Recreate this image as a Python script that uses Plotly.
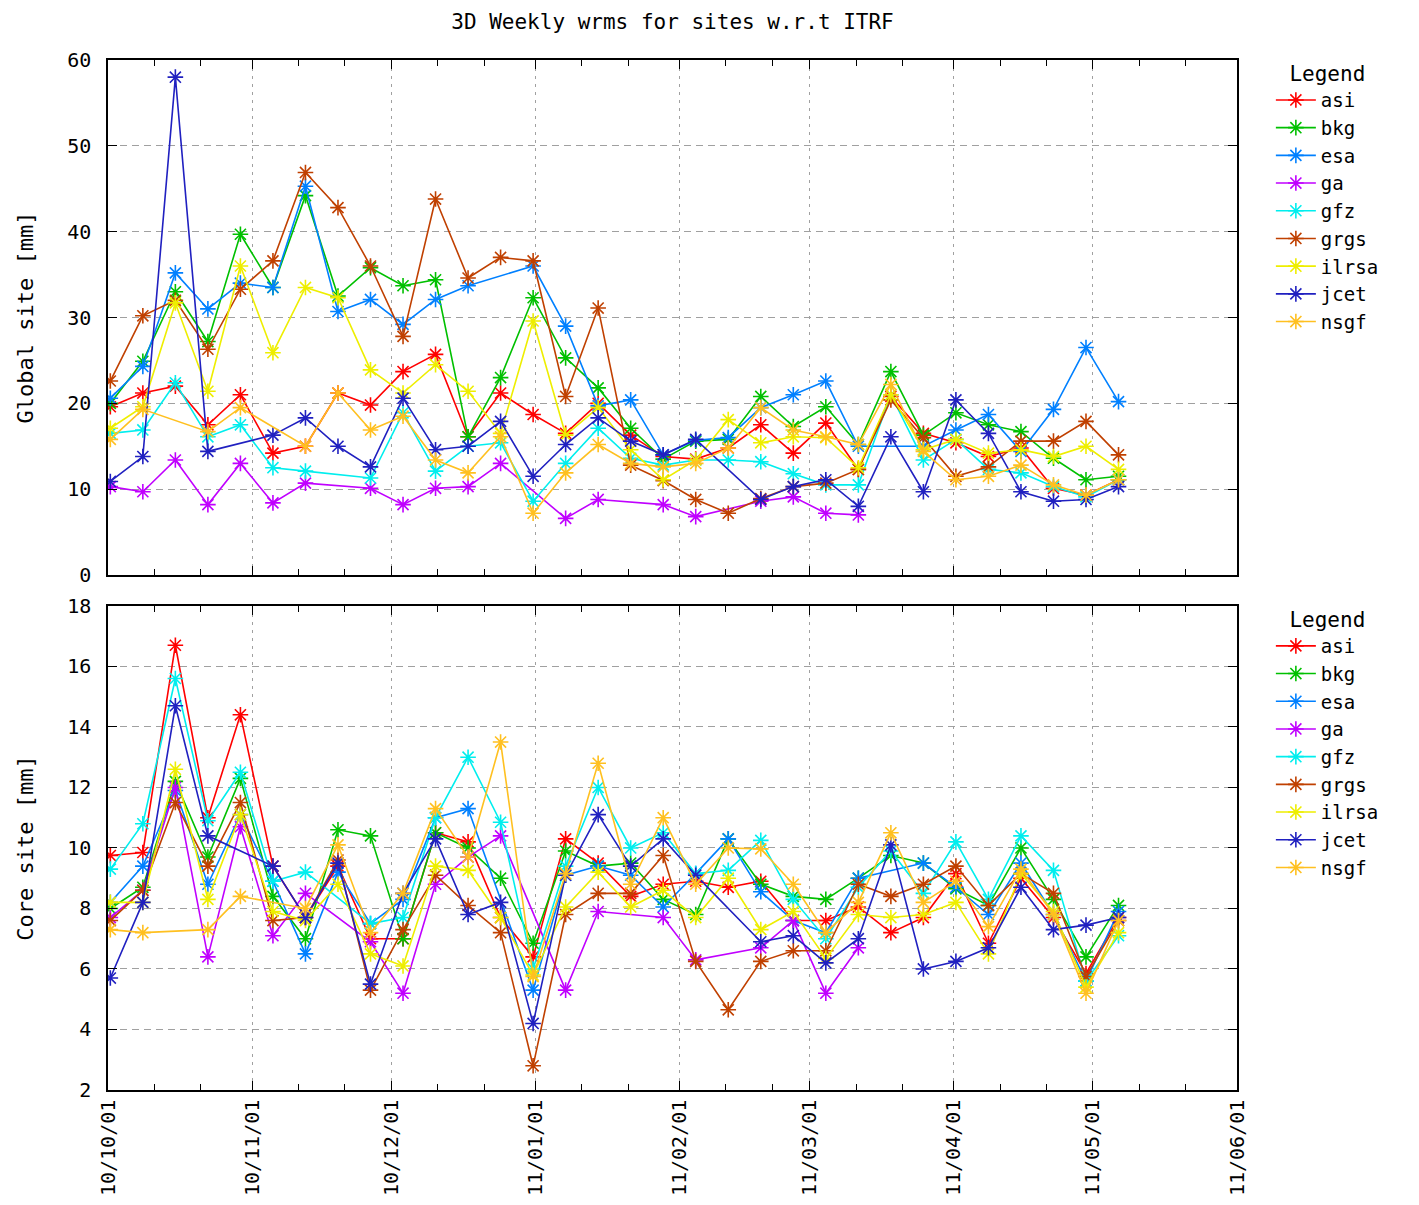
import plotly.graph_objects as go

# weekly solution epochs (Fridays)
weeks = ["2010-10-01", "2010-10-08", "2010-10-15", "2010-10-22", "2010-10-29",
         "2010-11-05", "2010-11-12", "2010-11-19", "2010-11-26",
         "2010-12-03", "2010-12-10", "2010-12-17", "2010-12-24", "2010-12-31",
         "2011-01-07", "2011-01-14", "2011-01-21", "2011-01-28",
         "2011-02-04", "2011-02-11", "2011-02-18", "2011-02-25",
         "2011-03-04", "2011-03-11", "2011-03-18", "2011-03-25",
         "2011-04-01", "2011-04-08", "2011-04-15", "2011-04-22", "2011-04-29",
         "2011-05-06"]

sites = ["asi", "bkg", "esa", "ga", "gfz", "grgs", "ilrsa", "jcet", "nsgf"]

# Global site 3D wrms [mm]
global_asi = [19.6, 21.2, 22.0, 17.5, 21.0, 14.2, 15.0, 21.2, 19.8, 23.7, 25.7, 16.1, 21.2, 18.7, 16.5, 20.0,
              16.3, 13.8, 13.5, 14.8, 17.5, 14.2, 17.7, 12.3, 20.8, 16.5, 15.4, 13.8, 14.8, 10.1, 9.3, 11.1]
global_bkg = [20.0, 24.9, 33.0, 27.2, 39.7, 33.5, 44.2, 32.5, 35.8, 33.7, 34.4, 16.1, 23.0, 32.3, 25.3, 21.8,
              17.1, 13.5, 15.6, 15.8, 20.8, 17.3, 19.6, 15.2, 23.7, 16.3, 18.9, 17.5, 16.7, 13.6, 11.1, 11.5]
global_esa = [20.6, 24.3, 35.2, 31.0, 34.0, 33.5, 45.3, 30.7, 32.1, 29.2, 32.1, 33.7, None, 36.0, 29.0, 19.7,
              20.4, 14.0, 15.7, 16.0, 19.5, 21.0, 22.6, 15.0, None, 15.0, 16.9, 18.7, 14.4, 19.3, 26.5, 20.2]
global_ga = [10.3, 9.7, 13.4, 8.2, 13.0, 8.4, 10.7, None, 10.1, 8.2, 10.1, 10.3, 13.0, None, 6.6, 8.8,
             None, 8.2, 6.8, None, 8.6, 9.1, 7.2, 7.0, None, None, None, None, None, None, None, None]
global_gfz = [16.5, 16.9, 22.4, 16.1, 17.5, 12.5, 12.1, None, 11.3, 18.9, 12.1, 15.0, 15.4, 8.6, 13.0, 17.1,
              13.6, 12.8, 13.4, 13.4, 13.2, 11.8, 10.5, 10.5, 21.0, 13.4, 15.8, 12.3, 11.9, 10.3, 9.1, 11.1]
global_grgs = [22.6, 30.2, 32.0, 26.3, 33.3, 36.6, 46.9, 42.8, 36.0, 27.8, 43.8, 34.6, 37.0, 36.6, 20.8, 31.1,
               12.8, 11.0, 8.8, 7.2, 8.9, 10.3, 10.7, 12.3, 20.4, 16.0, 11.5, 12.6, 15.6, 15.6, 17.9, 14.0]
global_ilrsa = [17.1, 19.6, 31.7, 21.4, 36.0, 25.9, 33.5, 32.3, 23.9, 21.2, 24.5, 21.4, 16.5, 29.6, 16.3, 19.5,
                14.6, 11.1, 13.4, 18.1, 15.4, 16.1, 16.0, 12.5, 21.0, 14.6, 15.8, 14.2, 14.6, 13.8, 15.0, 12.3]
global_jcet = [10.9, 13.8, 58.0, 14.4, None, 16.3, 18.3, 15.0, 12.6, 20.6, 14.6, 15.0, 17.9, 11.5, 15.2, 18.3,
               15.6, 14.0, 15.8, None, 8.8, 10.3, 11.1, 8.0, 16.1, 9.7, 20.4, 16.5, 9.7, 8.6, 8.8, 10.3]
global_nsgf = [15.8, 19.3, None, 16.7, 19.5, None, 15.0, 21.2, 16.9, 18.5, 13.4, 11.9, 16.1, 7.2, 11.9, 15.2,
               13.0, 12.6, 13.0, 14.8, 19.5, 16.9, 16.1, 15.2, 22.2, 14.4, 11.1, 11.5, 12.8, 10.5, 9.3, 11.1]

# Core site 3D wrms [mm]
core_asi = [9.75, 9.85, 16.7, 11.0, 14.4, 9.4, 7.7, 9.4, 7.0, 7.0, 10.5, 10.2, 7.7, 6.4, 10.3, 9.5,
            8.4, 8.8, 8.9, 8.7, 8.9, 7.6, 7.6, 8.05, 7.2, 7.7, 9.15, 6.85, 9.0, 7.7, 5.85, 7.7]
core_bkg = [8.0, 8.7, 12.2, 9.7, 12.3, 8.4, 7.0, 10.6, 10.4, 7.0, 10.5, 10.0, 9.0, 6.85, 9.9, 9.4,
            9.5, 8.3, 7.8, 10.3, 8.8, 8.4, 8.3, 9.0, 9.75, 9.5, 8.65, 8.1, 10.0, 8.3, 6.4, 8.1]
core_esa = [8.2, 9.4, 11.9, 8.8, 11.1, 8.9, 6.5, 9.2, 7.5, 8.3, 11.0, 11.3, None, 5.3, 9.1, 9.4,
            9.1, 8.05, 9.15, 10.3, 8.55, 7.6, 7.2, 9.0, None, 9.5, 8.7, 7.8, 9.5, 7.8, 5.6, 7.9]
core_ga = [7.7, 8.6, 12.0, 6.4, 10.7, 7.1, 8.5, None, 6.9, 5.2, 8.8, 9.7, 10.4, None, 5.3, 7.9,
           None, 7.7, 6.3, None, 6.7, 7.6, 5.2, 6.7, None, None, None, None, None, None, None, None]
core_gfz = [9.3, 10.8, 15.6, 10.9, 12.5, 8.9, 9.2, None, 7.5, 7.7, 11.0, 13.0, 10.85, 6.0, 9.4, 12.0,
            10.0, 10.5, 9.15, 9.26, 10.25, 8.3, 7.0, 8.7, 9.9, 8.5, 10.2, 8.3, 10.4, 9.26, 5.6, 7.1]
core_grgs = [7.6, 8.6, 11.5, 9.4, 11.5, 7.6, 7.7, 9.6, 5.3, 7.3, 9.1, 8.1, 7.2, 2.8, 7.8, 8.5,
             8.5, 9.75, 6.25, 4.65, 6.25, 6.6, 6.6, 8.8, 8.4, 8.8, 9.4, 8.1, 9.15, 8.5, 5.75, 7.6]
core_ilrsa = [8.2, 8.2, 12.6, 8.3, 11.1, 7.9, 7.6, 8.8, 6.5, 6.1, 9.4, 9.26, 7.7, 5.8, 8.05, 9.2,
              8.05, 8.6, 7.7, 9.0, 7.3, 7.9, 6.35, 7.8, 7.7, 7.8, 8.2, 6.5, 9.15, 7.9, 5.4, 7.2]
core_jcet = [5.7, 8.2, 14.7, 10.4, None, 9.4, 7.7, 9.5, 5.5, 8.5, 10.3, 7.8, 8.2, 4.2, 9.1, 11.1,
             9.4, 10.3, 9.1, None, 6.9, 7.1, 6.2, 7.0, 10.1, 6.0, 6.25, 6.7, 8.7, 7.3, 7.45, 7.7]
core_nsgf = [7.3, 7.2, None, 7.3, 8.4, None, 8.0, 10.1, 7.2, 8.5, 11.3, 9.7, 13.5, 5.75, 9.15, 12.8,
             8.8, 11.0, 8.8, 10.0, 9.97, 8.8, 7.2, 8.2, 10.5, 8.2, 8.9, 7.4, 9.3, 7.8, 5.2, 7.6]

global_vals = [global_asi, global_bkg, global_esa, global_ga, global_gfz,
               global_grgs, global_ilrsa, global_jcet, global_nsgf]
core_vals = [core_asi, core_bkg, core_esa, core_ga, core_gfz,
             core_grgs, core_ilrsa, core_jcet, core_nsgf]

colors = ["#ff0000", "#00c000", "#0080ff", "#c000ff", "#00eeee",
          "#c04000", "#eeee00", "#2020c0", "#ffc020"]

FONT = "DejaVu Sans Mono"
x = [w + " 12:00" for w in weeks]

fig = go.Figure()
for name, vals, col in zip(sites, global_vals, colors):
    fig.add_trace(go.Scatter(
        x=x, y=vals, name=name, mode="lines+markers", connectgaps=True,
        line=dict(color=col, width=1.6),
        marker=dict(symbol="asterisk-open", size=13, color=col, line=dict(color=col, width=1.6)),
        xaxis="x", yaxis="y", legend="legend"))
for name, vals, col in zip(sites, core_vals, colors):
    fig.add_trace(go.Scatter(
        x=x, y=vals, name=name, mode="lines+markers", connectgaps=True,
        line=dict(color=col, width=1.6),
        marker=dict(symbol="asterisk-open", size=13, color=col, line=dict(color=col, width=1.6)),
        xaxis="x2", yaxis="y2", legend="legend2"))

months = ["2010-10", "2010-11", "2010-12", "2011-01", "2011-02", "2011-03", "2011-04", "2011-05"]
minor_vals = [m + d for m in months for d in ("-11", "-21")]

common_x = dict(
    type="date", range=["2010-10-01", "2011-06-01"],
    tick0="2010-10-01", dtick="M1", tickformat="%y/%m/%d",
    ticks="inside", ticklen=9, tickcolor="black", tickwidth=1.2,
    showline=True, linecolor="black", linewidth=1.5, mirror="allticks",
    showgrid=True, gridcolor="#a0a0a0", griddash="3px,5px", gridwidth=1.3,
    minor=dict(tickmode="array", tickvals=minor_vals, ticks="inside", ticklen=6,
               tickcolor="black", tickwidth=1.2, showgrid=False),
    zeroline=False, automargin=False,
    tickfont=dict(family=FONT, size=20, color="black"),
)
common_y = dict(
    ticks="inside", ticklen=9, tickcolor="black", tickwidth=1.2,
    showline=True, linecolor="black", linewidth=1.5, mirror="allticks",
    showgrid=True, gridcolor="#a0a0a0", griddash="7px,5px", gridwidth=1.3,
    zeroline=False, automargin=False, ticklabelstandoff=11,
    tickfont=dict(family=FONT, size=20, color="black"),
)

legend_common = dict(
    xref="paper", x=1.03, xanchor="left", yanchor="top",
    font=dict(family=FONT, size=19, color="black"),
    bgcolor="rgba(0,0,0,0)", itemwidth=40, tracegroupgap=0,
    title=dict(text="Legend", side="top center", font=dict(family=FONT, size=21, color="black")),
)

fig.update_layout(
    width=1419, height=1205,
    paper_bgcolor="white", plot_bgcolor="white",
    margin=dict(l=100, r=190, t=52, b=123),
    font=dict(family=FONT, size=20, color="black"),
    title=dict(text="3D Weekly wrms for sites w.r.t ITRF", x=0.5, xref="paper", xanchor="center",
               y=1 - 14 / 1205, yref="container", yanchor="middle",
               font=dict(family=FONT, size=21, color="black")),
    xaxis=dict(common_x, domain=[0, 1], anchor="y", showticklabels=False),
    yaxis=dict(common_y, domain=[0.5, 1], range=[0, 60], dtick=10,
               title=dict(text="Global site [mm]", standoff=27,
                          font=dict(family=FONT, size=22, color="black"))),
    xaxis2=dict(common_x, domain=[0, 1], anchor="y2", tickangle=-90),
    yaxis2=dict(common_y, domain=[0, 0.47], range=[2, 18], dtick=2,
                title=dict(text="Core site [mm]", standoff=27,
                           font=dict(family=FONT, size=22, color="black"))),
    legend=dict(legend_common, y=1.006),
    legend2=dict(legend_common, y=0.476),
    showlegend=True,
)

fig.write_html("out.html")
